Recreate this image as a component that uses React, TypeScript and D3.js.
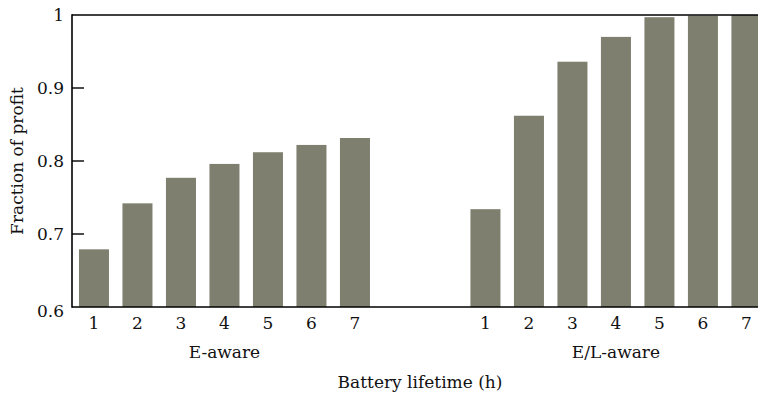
import React from "react";
import * as d3 from "d3";

const groups = ["E-aware", "E/L-aware"];
const lifetimes = ["1", "2", "3", "4", "5", "6", "7"];
const eAware = [0.679, 0.742, 0.777, 0.796, 0.812, 0.822, 0.8315];
const elAware = [0.734, 0.862, 0.936, 0.97, 0.997, 0.999, 1.0];
const yTicks = [0.6, 0.7, 0.8, 0.9, 1];
const yLabel = "Fraction of profit";
const xLabel = "Battery lifetime (h)";

const W = 758;
const H = 396;
const left = 72;
const top = 15;
const bottom = 307;
const right = 768.4;
const font = "'DejaVu Serif', serif";
const barColor = "#7f7f6f";

export default function App() {
  const series = [eAware, elAware];
  // 16 slots: 7 bars, 2 gap slots, 7 bars
  const slots = d3.range(16).map(String);
  const x = d3
    .scaleBand<string>()
    .domain(slots)
    .range([left, right])
    .paddingInner(0.31)
    .paddingOuter(0.16);
  const y = d3.scaleLinear().domain([0.6, 1]).range([bottom, top]);

  const bars: { slot: string; v: number; label: string; g: number }[] = [];
  series.forEach((vals, g) => {
    vals.forEach((v, i) => {
      bars.push({ slot: String(g * 9 + i), v, label: lifetimes[i], g });
    });
  });

  const groupCenter = (g: number) => {
    const a = x(String(g * 9))! + x.bandwidth() / 2;
    const b = x(String(g * 9 + 6))! + x.bandwidth() / 2;
    return (a + b) / 2;
  };

  return (
    <svg
      width={W}
      height={H}
      style={{ position: "absolute", left: 0, top: 0, background: "#fff" }}
      fontFamily={font}
    >
      {bars.map((b, i) => (
        <rect
          key={i}
          x={x(b.slot)}
          y={y(b.v)}
          width={x.bandwidth()}
          height={bottom - y(b.v)}
          fill={barColor}
        />
      ))}
      {/* axes */}
      <line x1={left} x2={W} y1={top} y2={top} stroke="#000" strokeWidth={1.6} />
      <line x1={left} x2={W} y1={bottom} y2={bottom} stroke="#000" strokeWidth={1.6} />
      <line x1={left} x2={left} y1={top - 0.8} y2={bottom + 0.8} stroke="#000" strokeWidth={1.6} />
      {yTicks.map((t, i) => (
        <g key={i}>
          {i > 0 && i < yTicks.length - 1 && (
            <line x1={left} x2={left + 12} y1={y(t)} y2={y(t)} stroke="#000" strokeWidth={1.4} />
          )}
          <text
            x={64}
            y={y(t) + (i === 0 ? 4 : 0)}
            textAnchor="end"
            dominantBaseline="central"
            fontSize={17}
            fill="#111"
          >
            {String(t)}
          </text>
        </g>
      ))}
      {bars.map((b, i) => (
        <text
          key={"xl" + i}
          x={x(b.slot)! + x.bandwidth() / 2}
          y={329}
          textAnchor="middle"
          fontSize={17}
          fill="#111"
        >
          {b.label}
        </text>
      ))}
      {groups.map((g, i) => (
        <text key={g} x={groupCenter(i)} y={358} textAnchor="middle" fontSize={17} fill="#111">
          {g}
        </text>
      ))}
      <text x={420} y={388} textAnchor="middle" fontSize={17} fill="#111">
        {xLabel}
      </text>
      <text
        transform={`translate(23, ${(top + bottom) / 2}) rotate(-90)`}
        textAnchor="middle"
        fontSize={17}
        fill="#111"
      >
        {yLabel}
      </text>
    </svg>
  );
}
